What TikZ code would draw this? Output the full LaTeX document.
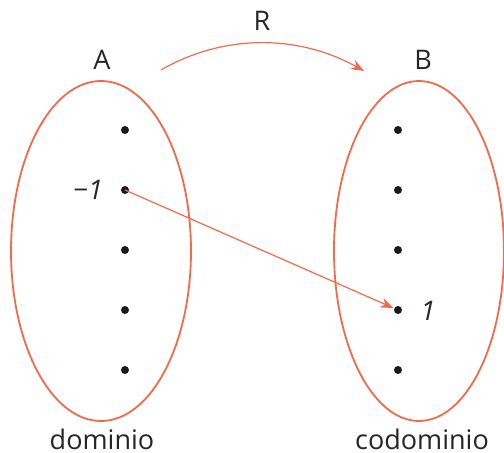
\documentclass[tikz,border=0pt]{standalone}
\usepackage{fontspec}
\setmainfont{Open Sans}
\usetikzlibrary{arrows.meta,shapes.geometric}
\definecolor{setred}{HTML}{F26A4B}
\tikzset{
  setline/.style={draw=setred, line width=1.8pt, ellipse, inner sep=0pt},
  pt/.style={circle, fill=black!90, inner sep=0pt, minimum size=8pt},
  lbl/.style={font=\fontsize{27}{30}\selectfont, text=black!85, inner sep=0pt},
  arr/.style={draw=setred, line width=1.2pt, -{Stealth[length=13pt,width=10pt]}}
}
\begin{document}
\begin{tikzpicture}[x=1pt,y=-1pt]
\useasboundingbox (0,0) rectangle (504,453);
% the two sets
\node[setline, minimum width=180pt, minimum height=340pt] (setA) at (101,251) {};
\node[setline, minimum width=170pt, minimum height=340pt] (setB) at (419,251) {};
% elements
\foreach \i/\y in {1/130,2/190,3/250,4/310,5/370} {
  \node[pt] (a\i) at (125,\y) {};
  \node[pt] (b\i) at (398,\y) {};
}
% labels
\node[lbl] (labA) at (102,60) {A};
\node[lbl] (labB) at (423,60) {B};
\node[lbl] (labR) at (262,21) {R};
\node[lbl, anchor=base] (dom) at (102,449) {dominio};
\node[lbl, anchor=base] (cod) at (422,449) {codominio};
\node[lbl, font=\fontsize{27}{30}\selectfont\itshape] (m1) at (88,190) {−1};
\node[lbl, font=\fontsize{27}{30}\selectfont\itshape] (p1) at (428,311) {1};
% relation arrows
\coordinate (rs) at (161,70);
\coordinate (re) at (364,71);
\draw[arr] (rs) .. controls (225,33) and (300,35) .. (re);
\draw[arr, shorten >=5pt] (a2.center) -- (b4.center);
\end{tikzpicture}
\end{document}
